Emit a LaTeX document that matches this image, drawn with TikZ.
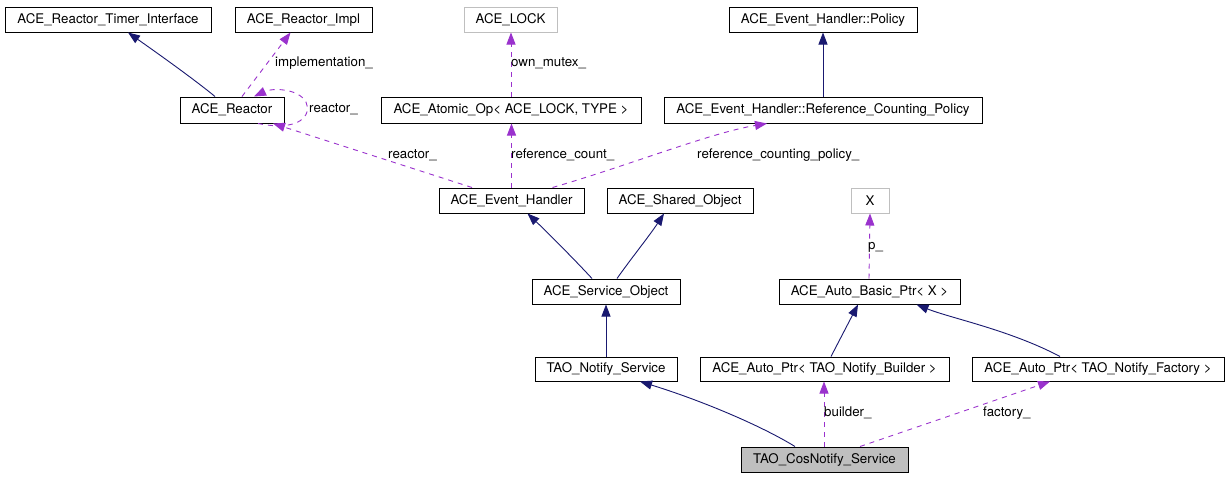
\documentclass[tikz,border=0pt]{standalone}
\usepackage{fontspec}
\setmainfont{TeX Gyre Heros}
\usetikzlibrary{arrows.meta,calc}
\definecolor{navy}{HTML}{191970}
\definecolor{orchid}{HTML}{9A32CD}
\definecolor{gbord}{HTML}{BFBFBF}
\begin{document}
\begin{tikzpicture}[x=1pt,y=-1pt,
  box/.style={draw=black, line width=1pt, minimum height=25pt, inner sep=0pt, font=\fontsize{13.3}{15}\selectfont, anchor=center},
  ghost/.style={box, draw=gbord},
  cur/.style={box, fill=gbord},
  inh/.style={draw=navy, line width=0.9pt, -{Triangle[length=12pt,width=9pt]}},
  use/.style={draw=orchid, line width=0.9pt, dash pattern=on 5pt off 5pt, -{Triangle[length=12pt,width=9pt]}},
  lbl/.style={font=\fontsize{13.3}{15}\selectfont, anchor=west, inner sep=0pt, text=black}]
\useasboundingbox[fill=white] (0,0) rectangle (1228,477);
% nodes
\node[box, minimum width=206pt] (timer) at (108,19.5) {ACE\_Reactor\_Timer\_Interface};
\node[box, minimum width=137pt] (impl) at (303.5,19.5) {ACE\_Reactor\_Impl};
\node[ghost, minimum width=93pt] (lock) at (510.5,19.5) {ACE\_LOCK};
\node[box, minimum width=188pt] (policy) at (823,19.5) {ACE\_Event\_Handler::Policy};
\node[box, minimum width=104pt, minimum height=26pt] (reactor) at (232,110) {ACE\_Reactor};
\node[box, minimum width=260pt, minimum height=26pt] (atomic) at (511,110) {ACE\_Atomic\_Op< ACE\_LOCK, TYPE >};
\node[box, minimum width=318pt, minimum height=26pt] (refpol) at (823,110) {ACE\_Event\_Handler::Reference\_Counting\_Policy};
\node[box, minimum width=145pt] (evh) at (511.5,200.5) {ACE\_Event\_Handler};
\node[box, minimum width=146pt] (shared) at (680,200.5) {ACE\_Shared\_Object};
\node[ghost, minimum width=38pt] (xnode) at (870,200.5) {X};
\node[box, minimum width=148pt] (svc) at (606,291.5) {ACE\_Service\_Object};
\node[box, minimum width=181pt] (basic) at (869.5,291.5) {ACE\_Auto\_Basic\_Ptr< X >};
\node[box, minimum width=142pt, minimum height=24pt] (notify) at (606,369) {TAO\_Notify\_Service};
\node[box, minimum width=249pt, minimum height=24pt] (builder) at (824.5,369) {ACE\_Auto\_Ptr< TAO\_Notify\_Builder >};
\node[box, minimum width=252pt, minimum height=24pt] (factory) at (1098,369) {ACE\_Auto\_Ptr< TAO\_Notify\_Factory >};
\node[cur, minimum width=167pt] (cos) at (824.5,459.5) {TAO\_CosNotify\_Service};
% connectors
\draw[inh] ([xshift=-17pt]reactor.north) .. controls (195,80) and (160,55) .. ([xshift=20pt]timer.south);
\draw[use] ([xshift=10pt]reactor.north) -- ([xshift=-13pt]impl.south);
\node[lbl] (limpl) at (275,63) {implementation\_};
\draw[use] ([xshift=26pt]reactor.south) .. controls (300,132) and (312,115) .. (306,102) .. controls (298,88) and (272,88) .. ([xshift=22pt]reactor.north);
\node[lbl] (lself) at (309,109) {reactor\_};
\draw[use] ([xshift=-39.5pt]evh.north) -- ([xshift=41pt]reactor.south);
\node[lbl] (lreac) at (388,155) {reactor\_};
\draw[use] (atomic.north) -- (atomic.north |- lock.south);
\node[lbl] (lmutex) at (511,63) {own\_mutex\_};
\draw[use] (evh.north) -- (evh.north |- atomic.south);
\node[lbl] (lcount) at (511,155) {reference\_count\_};
\draw[use] ([xshift=41pt]evh.north) .. controls (630,165) and (710,133) .. ([xshift=-56pt]refpol.south);
\node[lbl] (lpol) at (697,155) {reference\_counting\_policy\_};
\draw[inh] (refpol.north) -- (policy.south);
\draw[inh] ([xshift=-14pt]svc.north) .. controls (575,260) and (545,230) .. ([xshift=16pt]evh.south);
\draw[inh] ([xshift=11pt]svc.north) .. controls (630,260) and (650,235) .. ([xshift=-16pt]shared.south);
\draw[inh] (notify.north) -- (svc.south);
\draw[use] ([xshift=-0.5pt]basic.north) -- (xnode.south);
\node[lbl] (lp) at (868,247) {p\_};
\draw[inh] ([xshift=6.5pt]builder.north) -- ([xshift=-11.5pt]basic.south);
\draw[inh] ([xshift=-38pt]factory.north) .. controls (1010,330) and (950,318) .. ([xshift=47pt]basic.south);
\draw[inh] ([xshift=-29.5pt]cos.north) .. controls (760,425) and (700,400) .. ([xshift=34pt]notify.south);
\draw[use] ([xshift=-0.5pt]cos.north) -- ([xshift=-0.5pt]builder.south);
\node[lbl] (lbuild) at (824,413) {builder\_};
\draw[use] ([xshift=35.5pt]cos.north) -- ([xshift=-48pt]factory.south);
\node[lbl] (lfact) at (983,413) {factory\_};
\end{tikzpicture}
\end{document}
